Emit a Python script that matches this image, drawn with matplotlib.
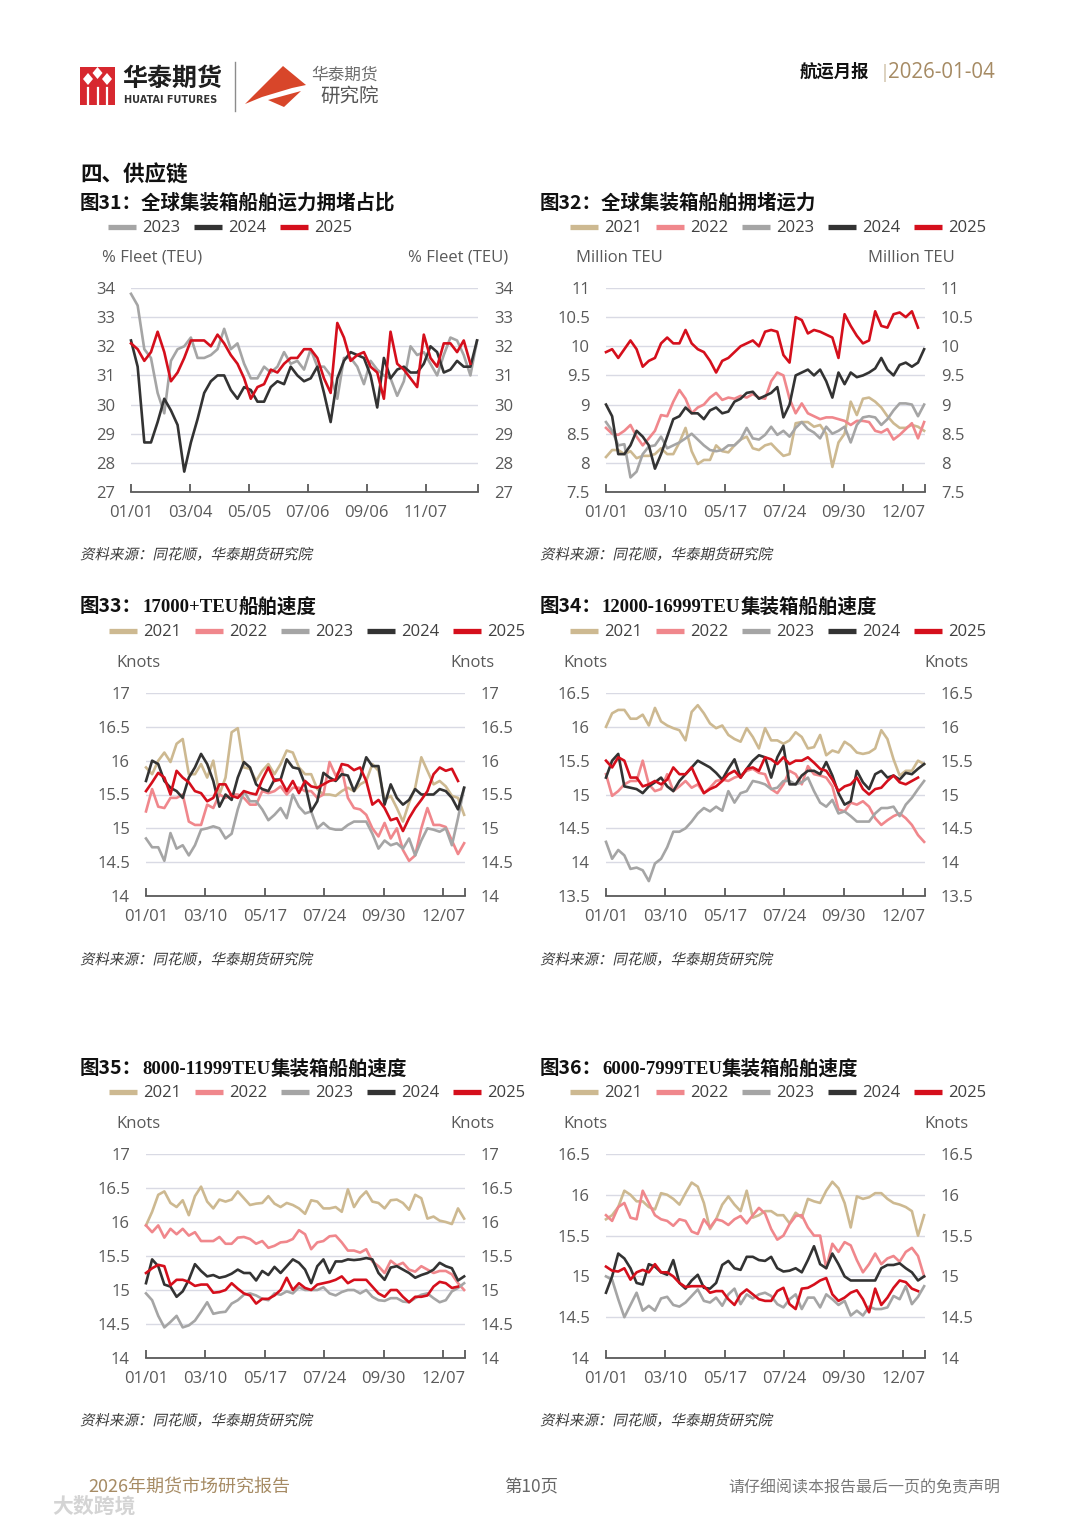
import numpy as np
import matplotlib.pyplot as plt
from matplotlib.patches import Polygon, Rectangle, PathPatch
from matplotlib.lines import Line2D
from matplotlib.textpath import TextPath
from matplotlib.font_manager import FontProperties
from matplotlib.transforms import Affine2D, IdentityTransform

W, H = 1080, 1527
CJK = ['Noto Sans CJK SC', 'DejaVu Sans']
NUM = ['Open Sans', 'Noto Sans CJK SC', 'DejaVu Sans']
SERIF = ['Liberation Serif', 'Noto Sans CJK SC']
plt.rcParams['font.family'] = NUM

COLORS = {'2021': '#CDB991', '2022': '#F0878C', '2023': '#A5A5A5',
          '2024': '#333333', '2025': '#D50F1C'}
TICK_C = '#595959'

# x 轴刻度
ticks_a = [0, 62, 124, 186, 248, 310]
labels_a = ['01/01', '03/04', '05/05', '07/06', '09/06', '11/07']
ticks_b = [0, 68, 136, 204, 272, 340]
labels_b = ['01/01', '03/10', '05/17', '07/24', '09/30', '12/07']

# 图31 拥堵占比 (% Fleet TEU), 周度
c31_2023 = [33.8, 33.4, 31.9, 31.6, 30.4, 29.7, 31.5, 31.9, 32.0, 32.3, 31.6, 31.6, 31.7, 31.9,
            32.6, 31.9, 32.1, 31.4, 30.9, 30.9, 31.3, 31.1, 31.3, 31.8, 31.4, 31.5, 31.2, 31.9,
            31.3, 31.3, 31.0, 30.2, 31.6, 31.6, 31.3, 30.7, 31.5, 31.2, 31.0, 30.9, 30.3, 30.8,
            32.0, 31.7, 31.8, 31.4, 31.0, 31.7, 32.3, 32.2, 31.7, 31.0, 32.2]
c31_2024 = [32.2, 31.3, 28.7, 28.7, 29.4, 30.2, 29.8, 29.3, 27.7, 28.7, 29.5, 30.4, 30.8, 31.0,
            31.0, 30.5, 30.2, 30.6, 30.5, 30.1, 30.1, 30.6, 30.8, 30.7, 31.3, 31.0, 30.8, 30.9,
            31.3, 30.4, 29.4, 30.9, 31.5, 31.8, 31.7, 31.6, 31.0, 29.9, 31.6, 30.9, 31.2, 31.3,
            31.1, 31.1, 31.4, 32.0, 31.8, 31.1, 31.2, 31.5, 31.3, 31.3, 32.2]
c31_2025 = [32.1, 31.9, 31.5, 31.8, 32.5, 31.8, 30.8, 31.1, 31.6, 32.2, 32.2, 32.2, 32.0, 32.4,
            32.1, 31.7, 31.4, 30.9, 30.2, 30.6, 30.7, 31.2, 31.1, 31.4, 31.6, 31.6, 31.9, 31.9,
            31.6, 30.9, 30.4, 32.8, 32.3, 31.5, 31.7, 31.8, 31.3, 31.1, 30.2, 32.5, 31.4, 31.2,
            30.9, 30.6, 32.4, 31.6, 31.3, 32.1, 32.1, 31.8, 32.2, 31.4]

# 图32 拥堵运力 (Million TEU)
c32_2021 = [8.1, 8.22, 8.22, 8.15, 8.2, 8.08, 8.12, 8.12, 8.15, 8.25, 8.15, 8.15, 8.35, 8.6,
            8.2, 7.98, 8.05, 8.05, 8.3, 8.2, 8.18, 8.3, 8.4, 8.45, 8.25, 8.22, 8.3, 8.33, 8.22,
            8.12, 8.15, 8.68, 8.7, 8.7, 8.62, 8.65, 8.5, 7.93, 8.35, 8.5, 9.05, 8.82, 9.1, 9.12,
            9.05, 8.95, 8.8, 8.68, 8.6, 8.6, 8.65, 8.62, 8.55]
c32_2022 = [8.6, 8.5, 8.48, 8.55, 8.65, 8.45, 8.3, 8.42, 8.55, 8.82, 8.8, 9.05, 9.25, 9.1, 8.85,
            8.95, 9.0, 9.12, 9.2, 9.08, 9.12, 9.1, 9.15, 9.12, 9.18, 9.12, 9.1, 9.4, 9.55, 9.5,
            9.1, 8.85, 9.02, 8.85, 8.8, 8.75, 8.78, 8.78, 8.75, 8.72, 8.65, 8.72, 8.72, 8.7,
            8.55, 8.52, 8.58, 8.4, 8.48, 8.58, 8.68, 8.42, 8.7]
c32_2023 = [8.7, 8.55, 8.3, 8.32, 7.75, 7.85, 8.15, 8.28, 8.3, 8.45, 8.25, 8.3, 8.35, 8.42, 8.5,
            8.4, 8.3, 8.22, 8.2, 8.22, 8.3, 8.3, 8.4, 8.6, 8.42, 8.4, 8.48, 8.62, 8.48, 8.55,
            8.45, 8.6, 8.7, 8.58, 8.52, 8.42, 8.62, 8.5, 8.55, 8.62, 8.35, 8.65, 8.78, 8.8, 8.78,
            8.65, 8.75, 8.9, 9.02, 9.02, 9.0, 8.8, 9.0]
c32_2024 = [9.0, 8.8, 8.15, 8.15, 8.3, 8.55, 8.45, 8.3, 7.9, 8.15, 8.45, 8.75, 8.8, 8.95, 8.85,
            8.85, 8.75, 8.9, 8.95, 8.85, 8.88, 9.05, 9.1, 9.2, 9.22, 9.1, 9.15, 9.2, 9.3, 8.78,
            9.0, 9.5, 9.55, 9.6, 9.5, 9.6, 9.4, 9.12, 9.55, 9.35, 9.55, 9.47, 9.5, 9.55, 9.62,
            9.8, 9.6, 9.5, 9.68, 9.72, 9.65, 9.72, 9.95]
c32_2025 = [9.9, 9.95, 9.8, 9.95, 10.1, 9.95, 9.65, 9.75, 9.8, 10.05, 10.15, 10.05, 10.05,
            10.28, 10.05, 9.95, 9.9, 9.75, 9.55, 9.75, 9.8, 9.9, 10.0, 10.05, 10.1, 10.0, 10.25,
            10.28, 10.25, 9.85, 9.72, 10.5, 10.45, 10.22, 10.28, 10.25, 10.2, 10.15, 9.8, 10.55,
            10.35, 10.18, 10.05, 10.1, 10.6, 10.35, 10.32, 10.55, 10.58, 10.5, 10.6, 10.32]

# 图33 17000+TEU 船速 (Knots)
c33_2021 = [15.9, 15.8, 16.0, 16.12, 15.98, 16.25, 16.32, 15.8, 15.8, 15.95, 15.75, 16.0, 15.5,
            15.75, 16.42, 16.48, 15.9, 15.88, 15.7, 15.85, 15.95, 15.8, 15.95, 16.15, 16.12,
            15.9, 15.8, 15.8, 15.58, 15.5, 15.5, 15.48, 15.55, 15.6, 15.55, 15.65, 15.7, 15.95,
            15.85, 15.42, 15.48, 15.3, 15.1, 15.38, 15.6, 16.05, 15.85, 15.65, 15.7, 15.62,
            15.48, 15.45, 15.2]
c33_2022 = [15.25, 15.58, 15.32, 15.3, 15.45, 15.45, 15.5, 15.1, 15.05, 15.05, 15.35, 15.3,
            15.5, 15.45, 15.5, 15.5, 15.45, 15.35, 15.35, 15.55, 15.52, 15.55, 15.62, 15.5,
            15.6, 15.6, 15.55, 15.55, 15.45, 15.5, 15.98, 15.78, 15.88, 15.45, 15.3, 15.28,
            15.2, 15.0, 14.88, 15.08, 14.85, 15.0, 14.68, 14.52, 14.6, 15.0, 15.3, 15.05, 15.05,
            15.02, 14.82, 14.62, 14.78]
c33_2023 = [14.85, 14.72, 14.72, 14.52, 14.93, 14.7, 14.75, 14.6, 14.75, 14.98, 15.0, 15.03,
            15.0, 14.85, 14.92, 15.28, 15.55, 15.4, 15.4, 15.28, 15.12, 15.2, 15.3, 15.15, 15.5,
            15.32, 15.22, 15.25, 15.0, 15.08, 15.0, 14.98, 14.98, 15.05, 15.1, 15.1, 15.1,
            14.92, 14.7, 14.82, 14.75, 14.78, 14.7, 14.85, 14.6, 14.82, 15.0, 14.98, 14.95,
            15.0, 14.75, 15.15, 15.6]
c33_2024 = [15.7, 16.0, 15.95, 15.7, 15.6, 15.55, 15.45, 15.75, 15.9, 16.1, 15.95, 15.7, 15.32,
            15.5, 15.42, 15.75, 15.98, 15.9, 15.65, 15.58, 15.55, 15.72, 15.72, 16.02, 15.9,
            15.88, 15.65, 15.25, 15.4, 15.82, 15.75, 15.7, 15.8, 15.78, 15.55, 15.75, 16.05,
            15.92, 15.92, 15.35, 15.65, 15.45, 15.35, 15.42, 15.58, 15.5, 15.5, 15.5, 15.58,
            15.55, 15.45, 15.28, 15.6]
c33_2025 = [15.55, 15.68, 15.82, 15.75, 15.5, 15.85, 15.75, 15.68, 15.55, 15.52, 15.4, 15.45,
            15.65, 15.65, 15.48, 15.45, 15.55, 15.52, 15.5, 15.72, 15.9, 15.7, 15.72, 15.55,
            15.7, 15.52, 15.7, 15.62, 15.6, 15.65, 15.7, 15.72, 15.95, 15.93, 15.86, 15.9, 15.7,
            15.35, 15.42, 15.3, 15.12, 15.15, 14.96, 15.15, 15.3, 15.42, 15.55, 15.8, 15.9,
            15.85, 15.88, 15.7]

# 图34 12000-16999TEU 船速
c34_2021 = [16.0, 16.2, 16.25, 16.25, 16.12, 16.12, 16.18, 16.02, 16.28, 16.08, 16.02, 15.98,
            15.95, 15.8, 16.22, 16.32, 16.2, 16.05, 15.98, 16.02, 15.88, 15.82, 15.78, 15.98,
            15.85, 15.68, 15.98, 15.8, 15.8, 15.75, 15.8, 15.92, 15.85, 15.68, 15.7, 15.88,
            15.58, 15.65, 15.62, 15.78, 15.72, 15.62, 15.6, 15.62, 15.68, 15.95, 15.82, 15.52,
            15.28, 15.35, 15.35, 15.5, 15.45]
c34_2022 = [15.3, 14.98, 15.05, 15.15, 15.2, 15.2, 15.5, 15.15, 15.05, 15.08, 15.3, 15.05,
            15.12, 15.2, 15.1, 15.15, 15.02, 15.1, 15.2, 15.22, 15.2, 15.25, 15.28, 15.35, 15.38,
            15.32, 15.3, 15.08, 15.02, 15.15, 15.35, 15.3, 15.15, 15.42, 15.3, 15.28, 15.25,
            15.12, 14.78, 14.75, 14.88, 14.85, 14.9, 14.82, 14.65, 14.55, 14.62, 14.68, 14.72,
            14.65, 14.55, 14.4, 14.3]
c34_2023 = [14.3, 14.05, 14.18, 14.1, 13.9, 13.92, 13.88, 13.72, 13.98, 14.05, 14.22, 14.45,
            14.45, 14.5, 14.6, 14.72, 14.8, 14.75, 14.82, 14.76, 15.05, 14.88, 15.02, 15.05,
            15.2, 15.18, 15.15, 15.08, 15.1, 15.2, 15.2, 15.15, 15.18, 15.25, 15.05, 14.88,
            14.82, 14.92, 14.72, 14.75, 14.68, 14.6, 14.6, 14.6, 14.72, 14.8, 14.8, 14.82, 14.68,
            14.85, 14.95, 15.08, 15.2]
c34_2024 = [15.25, 15.5, 15.6, 15.12, 15.1, 15.08, 15.02, 15.12, 15.18, 15.25, 15.12, 15.05,
            15.2, 15.3, 15.4, 15.5, 15.45, 15.4, 15.32, 15.22, 15.38, 15.52, 15.25, 15.38, 15.5,
            15.58, 15.55, 15.25, 15.55, 15.72, 15.15, 15.15, 15.28, 15.35, 15.35, 15.3, 15.48,
            15.28, 15.02, 14.85, 14.9, 15.35, 15.18, 15.08, 15.3, 15.35, 15.25, 15.28, 15.22,
            15.32, 15.3, 15.38, 15.45]
c34_2025 = [15.5, 15.4, 15.55, 15.5, 15.25, 15.25, 15.12, 15.15, 15.2, 15.15, 15.22, 15.4,
            15.3, 15.3, 15.4, 15.2, 15.02, 15.08, 15.12, 15.2, 15.3, 15.35, 15.25, 15.38, 15.4,
            15.35, 15.55, 15.52, 15.45, 15.55, 15.45, 15.5, 15.5, 15.55, 15.47, 15.38, 15.35,
            15.22, 15.05, 15.12, 15.15, 15.25, 15.08, 15.0, 15.08, 15.1, 15.2, 15.28, 15.18,
            15.15, 15.2, 15.25]

# 图35 8000-11999TEU 船速
c35_2021 = [15.95, 16.15, 16.4, 16.45, 16.28, 16.22, 16.32, 16.1, 16.38, 16.52, 16.3, 16.2,
            16.33, 16.3, 16.33, 16.45, 16.35, 16.25, 16.27, 16.28, 16.38, 16.27, 16.22, 16.28,
            16.25, 16.2, 16.12, 16.32, 16.3, 16.2, 16.2, 16.22, 16.15, 16.48, 16.22, 16.36,
            16.45, 16.3, 16.28, 16.2, 16.32, 16.33, 16.28, 16.18, 16.4, 16.35, 16.05, 16.08,
            16.02, 16.0, 15.97, 16.2, 16.05]
c35_2022 = [15.95, 15.85, 15.95, 15.77, 15.9, 15.82, 15.9, 15.8, 15.85, 15.72, 15.72, 15.72,
            15.78, 15.68, 15.68, 15.77, 15.78, 15.75, 15.68, 15.72, 15.62, 15.65, 15.7, 15.71,
            15.75, 15.88, 15.82, 15.6, 15.7, 15.72, 15.79, 15.8, 15.7, 15.58, 15.58, 15.55,
            15.6, 15.42, 15.35, 15.25, 15.43, 15.36, 15.4, 15.3, 15.27, 15.35, 15.3, 15.25,
            15.28, 15.28, 15.23, 15.1, 15.0]
c35_2023 = [14.95, 14.85, 14.62, 14.45, 14.53, 14.62, 14.45, 14.48, 14.55, 14.68, 14.82, 14.65,
            14.67, 14.68, 14.8, 14.85, 14.93, 14.95, 14.92, 14.87, 14.85, 14.95, 14.93, 14.98,
            14.95, 15.04, 15.0, 15.0, 15.0, 15.04, 14.95, 14.92, 14.97, 15.0, 15.0, 14.95, 15.0,
            14.9, 14.85, 14.84, 14.88, 14.88, 14.83, 14.82, 14.88, 14.93, 14.95, 14.88, 14.82,
            14.85, 14.98, 15.03, 15.1]
c35_2024 = [15.1, 15.45, 15.35, 15.08, 15.05, 14.9, 14.98, 15.15, 15.38, 15.28, 15.2, 15.22,
            15.18, 15.2, 15.24, 15.3, 15.25, 15.25, 15.14, 15.28, 15.22, 15.34, 15.25, 15.35,
            15.45, 15.4, 15.3, 15.1, 15.35, 15.45, 15.25, 15.42, 15.42, 15.45, 15.44, 15.45,
            15.47, 15.45, 15.25, 15.15, 15.33, 15.35, 15.3, 15.25, 15.18, 15.22, 15.25, 15.3,
            15.4, 15.35, 15.32, 15.14, 15.2]
c35_2025 = [15.25, 15.32, 15.37, 15.35, 15.07, 15.15, 15.15, 15.12, 15.06, 15.08, 15.08, 14.96,
            14.97, 15.0, 15.1, 15.02, 14.95, 14.92, 14.8, 14.87, 14.87, 14.92, 15.0, 15.18, 15.0,
            15.1, 15.03, 15.0, 15.08, 15.1, 15.12, 15.15, 15.2, 15.1, 15.15, 15.15, 15.15,
            15.05, 14.95, 14.9, 15.0, 15.0, 14.9, 14.82, 14.9, 14.9, 14.92, 15.05, 15.12, 15.1,
            15.03, 15.05]

# 图36 6000-7999TEU 船速
c36_2021 = [15.7, 15.75, 15.85, 16.05, 16.0, 15.92, 15.92, 15.85, 15.82, 16.02, 16.0, 15.95,
            15.88, 16.02, 16.15, 16.1, 15.9, 15.58, 15.7, 15.88, 15.98, 15.88, 15.8, 16.05,
            15.72, 15.75, 15.8, 15.8, 15.75, 15.75, 15.65, 15.78, 15.72, 15.95, 15.92, 15.9,
            16.05, 16.16, 16.08, 15.9, 15.6, 15.98, 15.95, 15.97, 16.02, 16.02, 15.95, 15.9,
            15.88, 15.85, 15.8, 15.5, 15.75]
c36_2022 = [15.75, 15.68, 15.85, 15.9, 15.72, 15.7, 16.05, 15.9, 15.75, 15.7, 15.68, 15.62,
            15.7, 15.68, 15.55, 15.52, 15.7, 15.6, 15.7, 15.68, 15.63, 15.7, 15.74, 15.65, 15.75,
            15.84, 15.77, 15.58, 15.45, 15.5, 15.64, 15.74, 15.75, 15.6, 15.5, 15.5, 15.1, 15.4,
            15.3, 15.42, 15.38, 15.2, 15.05, 15.15, 15.28, 15.15, 15.22, 15.25, 15.18, 15.3,
            15.35, 15.25, 15.0]
c36_2023 = [15.0, 14.96, 14.72, 14.5, 14.65, 14.8, 14.58, 14.64, 14.58, 14.73, 14.75, 14.65,
            14.63, 14.68, 14.76, 14.84, 14.7, 14.68, 14.74, 14.64, 14.78, 14.85, 14.66, 14.78,
            14.73, 14.78, 14.8, 14.76, 14.66, 14.62, 14.72, 14.78, 14.6, 14.74, 14.74, 14.62,
            14.78, 14.72, 14.65, 14.7, 14.52, 14.58, 14.52, 14.63, 14.6, 14.6, 14.62, 14.76,
            14.72, 14.88, 14.66, 14.75, 14.88]
c36_2024 = [14.8, 15.0, 15.28, 15.22, 15.1, 14.92, 14.9, 15.15, 15.12, 15.05, 15.02, 15.2,
            14.92, 14.85, 14.95, 15.02, 14.86, 14.85, 14.92, 15.14, 15.19, 15.1, 15.08, 15.24,
            15.24, 15.2, 15.19, 15.24, 15.1, 15.06, 15.07, 15.1, 15.05, 15.2, 15.37, 15.15,
            15.1, 15.28, 15.15, 15.0, 14.95, 14.95, 14.95, 14.95, 14.95, 15.1, 15.14, 15.14,
            15.16, 15.1, 15.05, 14.95, 15.0]
c36_2025 = [15.12, 15.07, 15.06, 15.1, 14.96, 15.05, 15.08, 15.05, 15.15, 15.05, 15.05, 15.0,
            14.92, 14.87, 14.88, 14.88, 14.88, 14.8, 14.82, 14.82, 14.72, 14.65, 14.78, 14.84,
            14.78, 14.72, 14.7, 14.7, 14.82, 14.86, 14.66, 14.6, 14.85, 14.86, 14.9, 14.95,
            14.98, 14.78, 14.7, 14.74, 14.8, 14.83, 14.72, 14.56, 14.85, 14.65, 14.74, 14.86,
            14.95, 14.93, 14.85, 14.82]

fig = plt.figure(figsize=(W / 100, H / 100), dpi=100)
fig.patch.set_facecolor('white')
renderer = fig.canvas.get_renderer()


def fx(x):
    return x / W


def fy(y):
    return 1 - y / H


def put(x, y, s, **kw):
    kw.setdefault('va', 'center')
    return fig.text(fx(x), fy(y), s, **kw)


def put_run(x, y, parts):
    # 一行里混排不同字体
    for s, fam, size in parts:
        t = put(x, y, s, family=fam, fontsize=size, fontweight='bold', color='#111111')
        x = t.get_window_extent(renderer).x1


def put_italic(x, y, s, size=14.5, color='#3A3A3A'):
    path = TextPath((0, 0), s, size=size, prop=FontProperties(family='Noto Sans CJK SC'))
    tr = Affine2D().skew_deg(12, 0).translate(x, H - y - 0.36 * size)
    fig.add_artist(PathPatch(path, transform=tr + IdentityTransform(), fc=color, ec='none'))


def legend(x, y, names):
    for i, n in enumerate(names):
        xs = x + 86 * i
        fig.add_artist(Line2D([fx(xs), fx(xs + 28)], [fy(y), fy(y)], color=COLORS[n],
                              lw=3.8, solid_capstyle='butt'))
        put(xs + 34, y + 1, n, fontsize=12, color='#404040')


def chart(box, ylim, ystep, xticks, xlabels, series):
    x0, y0, x1, y1 = box
    ax = fig.add_axes([fx(x0), fy(y1), (x1 - x0) / W, (y1 - y0) / H])
    for name, vals in series:
        days = np.arange(len(vals)) * 7
        ax.plot(days, vals, color=COLORS[name], lw=1.9, solid_joinstyle='round', clip_on=False)
    ax.set_xlim(0, 365)
    ax.set_ylim(*ylim)
    yt = np.arange(ylim[0], ylim[1] + ystep / 2, ystep)
    ax.set_yticks(yt)
    ax.set_yticklabels([f'{v:g}' for v in yt])
    ax.set_xticks(list(xticks) + [365])
    ax.set_xticklabels(list(xlabels) + [''])
    for s in ['top', 'left', 'right']:
        ax.spines[s].set_visible(False)
    ax.spines['bottom'].set_color('#595959')
    ax.spines['bottom'].set_linewidth(1.3)
    ax.yaxis.grid(True, color='#D9DAE4', lw=1.0)
    ax.set_axisbelow(True)
    ax.tick_params(axis='x', direction='in', length=6, width=1.3, color='#595959',
                   labelsize=12, labelcolor=TICK_C, pad=9.5)
    ax.tick_params(axis='y', left=False, right=False, labelleft=True, labelright=True,
                   labelsize=12, labelcolor=TICK_C, pad=8)
    ax.set_facecolor('none')
    return ax


# ---------- 页眉 ----------
fig.add_artist(Rectangle((fx(80), fy(105)), 35 / W, 38 / H, transform=fig.transFigure,
                         fc='#D7282F', ec='none'))
for cx, cy in [(88, 79), (97.5, 73), (107, 79)]:
    fig.add_artist(Polygon([(fx(cx), fy(cy - 6)), (fx(cx + 5), fy(cy)), (fx(cx), fy(cy + 6)),
                            (fx(cx - 5), fy(cy))], closed=True, transform=fig.transFigure,
                           fc='white', ec='none'))
for lx in [88, 97.5, 107]:
    fig.add_artist(Line2D([fx(lx), fx(lx)], [fy(88), fy(105)], color='white', lw=1.6))
put(122, 79, '华泰期货', family=CJK, fontsize=18, fontweight='bold', color='#1E1E1E')
put(124, 100, 'HUATAI FUTURES', family=['DejaVu Sans'], fontsize=7, fontweight='bold',
    color='#333333')
fig.add_artist(Line2D([fx(235), fx(235)], [fy(62), fy(111)], color='#8C8C8C', lw=1.0))
fig.add_artist(Polygon([(fx(245), fy(104)), (fx(283), fy(66)), (fx(306), fy(85)),
                        (fx(292), fy(88)), (fx(262), fy(97))], closed=True,
                       transform=fig.transFigure, fc='#D8462A', ec='none'))
fig.add_artist(Polygon([(fx(268), fy(100)), (fx(301), fy(91)), (fx(284), fy(107))], closed=True,
                       transform=fig.transFigure, fc='#D8462A', ec='none'))
put(311, 75, '华泰期货', family=CJK, fontsize=12, color='#6E6E6E')
put(320, 96, '研究院', family=CJK, fontsize=14, color='#555555')
put(800, 72, '航运月报', family=CJK, fontsize=12.5, fontweight='bold', color='#111111')
put(880, 73, '|', family=NUM, fontsize=13, color='#C9B99C')
put(888, 72, '2026-01-04', family=NUM, fontsize=14.8, color='#A68B64')

put(80, 175, '四、供应链', family=CJK, fontsize=15.5, fontweight='bold', color='#111111')

# ---------- 图31 ----------
put_run(80, 203, [('图31：全球集装箱船舶运力拥堵占比', CJK, 14)])
legend(108, 227, ['2023', '2024', '2025'])
put(102, 258, '% Fleet (TEU)', fontsize=12, color=TICK_C)
put(508, 258, '% Fleet (TEU)', fontsize=12, color=TICK_C, ha='right')
chart((131, 288, 478, 492), (27, 34), 1, ticks_a, labels_a,
      [('2023', c31_2023), ('2024', c31_2024), ('2025', c31_2025)])
put_italic(80, 554, '资料来源：同花顺，华泰期货研究院')

# ---------- 图32 ----------
put_run(540, 203, [('图32：全球集装箱船舶拥堵运力', CJK, 14)])
legend(570, 227, ['2021', '2022', '2023', '2024', '2025'])
put(576, 258, 'Million TEU', fontsize=12, color=TICK_C)
put(955, 258, 'Million TEU', fontsize=12, color=TICK_C, ha='right')
chart((606, 288, 925, 492), (7.5, 11), 0.5, ticks_b, labels_b,
      [('2021', c32_2021), ('2022', c32_2022), ('2023', c32_2023), ('2024', c32_2024),
       ('2025', c32_2025)])
put_italic(540, 554, '资料来源：同花顺，华泰期货研究院')

# ---------- 图33 ----------
put_run(80, 607, [('图33：', CJK, 14), ('17000+TEU', SERIF, 13.5), ('船舶速度', CJK, 14)])
legend(109, 631, ['2021', '2022', '2023', '2024', '2025'])
put(116, 663, 'Knots', fontsize=12, color=TICK_C)
put(494, 663, 'Knots', fontsize=12, color=TICK_C, ha='right')
chart((146, 693, 465, 896), (14, 17), 0.5, ticks_b, labels_b,
      [('2021', c33_2021), ('2022', c33_2022), ('2023', c33_2023), ('2024', c33_2024),
       ('2025', c33_2025)])
put_italic(80, 959, '资料来源：同花顺，华泰期货研究院')

# ---------- 图34 ----------
put_run(540, 607, [('图34：', CJK, 14), ('12000-16999TEU', SERIF, 13.5),
                   ('集装箱船舶速度', CJK, 14)])
legend(570, 631, ['2021', '2022', '2023', '2024', '2025'])
put(563, 663, 'Knots', fontsize=12, color=TICK_C)
put(968, 663, 'Knots', fontsize=12, color=TICK_C, ha='right')
chart((606, 693, 925, 896), (13.5, 16.5), 0.5, ticks_b, labels_b,
      [('2021', c34_2021), ('2022', c34_2022), ('2023', c34_2023), ('2024', c34_2024),
       ('2025', c34_2025)])
put_italic(540, 959, '资料来源：同花顺，华泰期货研究院')

# ---------- 图35 ----------
put_run(80, 1069, [('图35：', CJK, 14), ('8000-11999TEU', SERIF, 13.5),
                   ('集装箱船舶速度', CJK, 14)])
legend(109, 1092, ['2021', '2022', '2023', '2024', '2025'])
put(116, 1124, 'Knots', fontsize=12, color=TICK_C)
put(494, 1124, 'Knots', fontsize=12, color=TICK_C, ha='right')
chart((146, 1154, 465, 1358), (14, 17), 0.5, ticks_b, labels_b,
      [('2021', c35_2021), ('2022', c35_2022), ('2023', c35_2023), ('2024', c35_2024),
       ('2025', c35_2025)])
put_italic(80, 1420, '资料来源：同花顺，华泰期货研究院')

# ---------- 图36 ----------
put_run(540, 1069, [('图36：', CJK, 14), ('6000-7999TEU', SERIF, 13.5),
                    ('集装箱船舶速度', CJK, 14)])
legend(570, 1092, ['2021', '2022', '2023', '2024', '2025'])
put(563, 1124, 'Knots', fontsize=12, color=TICK_C)
put(968, 1124, 'Knots', fontsize=12, color=TICK_C, ha='right')
chart((606, 1154, 925, 1358), (14, 16.5), 0.5, ticks_b, labels_b,
      [('2021', c36_2021), ('2022', c36_2022), ('2023', c36_2023), ('2024', c36_2024),
       ('2025', c36_2025)])
put_italic(540, 1420, '资料来源：同花顺，华泰期货研究院')

# ---------- 页脚 ----------
put(88, 1487, '2026年期货市场研究报告', family=CJK, fontsize=13, color='#A68B64')
put(531, 1487, '第10页', family=CJK, fontsize=12.5, color='#666666', ha='center')
put(1000, 1488, '请仔细阅读本报告最后一页的免责声明', family=CJK, fontsize=11.5,
    color='#7A7A7A', ha='right')
put(52, 1506, '大数跨境', family=CJK, fontsize=15, color='#D4D4D4', fontweight='bold')

fig.savefig('out.png', dpi=100, facecolor='white')
